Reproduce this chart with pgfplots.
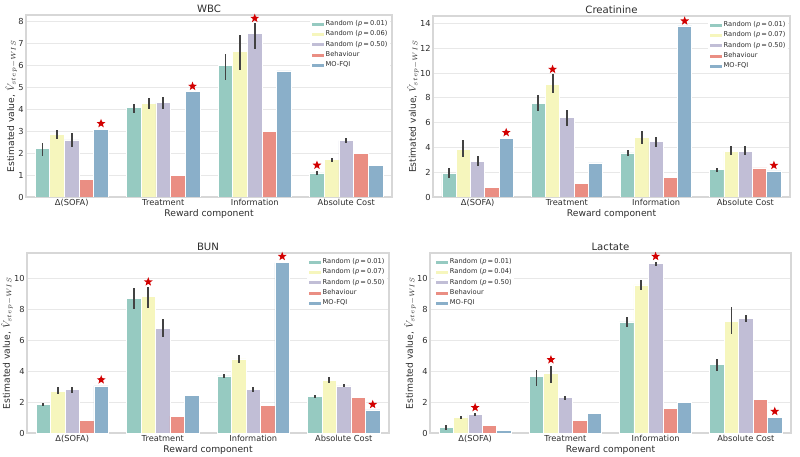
\documentclass[border=0pt]{standalone}
\usepackage{pgfplots}
\pgfplotsset{compat=1.18}
\usepackage{pgfplotstable}
\usepackage{fontspec}
\setmainfont{DejaVu Sans}
\definecolor{c1}{RGB}{150,202,193}
\definecolor{c2}{RGB}{246,246,189}
\definecolor{c3}{RGB}{193,190,214}
\definecolor{c4}{RGB}{234,142,131}
\definecolor{c5}{RGB}{138,175,201}
\definecolor{errc}{RGB}{66,66,66}
\definecolor{gridc}{RGB}{232,232,232}
\definecolor{spinec}{RGB}{215,215,215}
\definecolor{textc}{RGB}{45,45,45}
\definecolor{starc}{RGB}{210,0,0}
\pgfdeclareplotmark{fstar}{%
 \pgfpathmoveto{\pgfpointpolar{90}{\pgfplotmarksize}}%
 \pgfpathlineto{\pgfpointpolar{126}{0.42\pgfplotmarksize}}%
 \pgfpathlineto{\pgfpointpolar{162}{\pgfplotmarksize}}%
 \pgfpathlineto{\pgfpointpolar{198}{0.42\pgfplotmarksize}}%
 \pgfpathlineto{\pgfpointpolar{234}{\pgfplotmarksize}}%
 \pgfpathlineto{\pgfpointpolar{270}{0.42\pgfplotmarksize}}%
 \pgfpathlineto{\pgfpointpolar{306}{\pgfplotmarksize}}%
 \pgfpathlineto{\pgfpointpolar{342}{0.42\pgfplotmarksize}}%
 \pgfpathlineto{\pgfpointpolar{18}{\pgfplotmarksize}}%
 \pgfpathlineto{\pgfpointpolar{54}{0.42\pgfplotmarksize}}%
 \pgfpathclose\pgfusepathqfill}

% columns: x, random p1 (g, gl, gh), random p2 (y, yl, yh), random 0.50 (p, pl, ph), behaviour b, MO-FQI m
\pgfplotstableread{
x g gl gh y yl yh p pl ph b m
0 2.2 1.85 2.45 2.87 2.65 3.05 2.6 2.3 2.9 0.8 3.1
1 4.1 3.85 4.25 4.25 4.0 4.5 4.3 4.0 4.55 1.0 4.82
2 6.0 5.35 6.5 6.65 5.8 7.4 7.45 6.75 7.95 2.98 5.75
3 1.1 1.0 1.2 1.7 1.6 1.8 2.57 2.48 2.68 2.0 1.43
}\wbc
\pgfplotstableread{
x y
0.32 3.35
1.32 5.05
2.0 8.15
2.68 1.45
}\wbcstar
\pgfplotstableread{
x g gl gh y yl yh p pl ph b m
0 1.9 1.55 2.35 3.85 3.2 4.6 2.85 2.5 3.3 0.8 4.75
1 7.55 6.9 8.2 9.1 8.35 9.9 6.4 5.75 7.0 1.1 2.75
2 3.55 3.3 3.8 4.8 4.3 5.3 4.45 4.0 4.85 1.55 13.8
3 2.2 2.05 2.3 3.7 3.35 4.15 3.7 3.4 4.1 2.35 2.1
}\creat
\pgfplotstableread{
x y
0.32 5.2
0.84 10.3
2.32 14.2
3.32 2.55
}\creatstar
\pgfplotstableread{
x g gl gh y yl yh p pl ph b m
0 1.85 1.75 1.97 2.7 2.5 2.95 2.82 2.6 3.0 0.8 3.05
1 8.75 8.05 9.4 8.85 8.1 9.45 6.8 6.2 7.4 1.1 2.45
2 3.7 3.55 3.85 4.8 4.55 5.05 2.82 2.65 3.0 1.8 11.05
3 2.35 2.25 2.45 3.4 3.25 3.6 3.05 2.95 3.2 2.3 1.5
}\bun
\pgfplotstableread{
x y
0.32 3.45
0.84 9.8
2.32 11.45
3.32 1.85
}\bunstar
\pgfplotstableread{
x g gl gh y yl yh p pl ph b m
0 0.35 0.2 0.55 1.0 0.9 1.1 1.2 1.12 1.28 0.47 0.15
1 3.65 3.05 4.1 3.85 3.25 4.35 2.3 2.15 2.42 0.8 1.27
2 7.2 6.9 7.5 9.6 9.3 9.9 11.0 10.85 11.1 1.58 2.0
3 4.45 4.05 4.8 7.25 6.4 8.2 7.45 7.2 7.65 2.2 1.0
}\lac
\pgfplotstableread{
x y
0.0 1.65
0.84 4.75
2.0 11.45
3.32 1.4
}\lacstar

\pgfplotsset{
 myax/.style={
  scale only axis, ymin=0, xmin=-0.5, xmax=3.5,
  xtick={0,1,2,3},
  xticklabels={Δ(SOFA),Treatment,Information,Absolute Cost},
  major tick length=0pt,
  ymajorgrids, grid style={draw=gridc, line width=0.6pt},
  axis line style={draw=spinec, line width=0.8pt},
  tick label style={font=\fontsize{6.2}{7}\selectfont, text=textc},
  xticklabel style={inner sep=1pt, yshift=-0.5pt},
  yticklabel style={inner sep=1.5pt},
  /pgf/number format/assume math mode=true,
  label style={font=\fontsize{6.9}{8}\selectfont, text=textc},
  xlabel={Reward component},
  ylabel={Estimated value, $\hat{V}_{step-WIS}$},
  xlabel style={inner sep=1pt},
  ylabel style={inner sep=1pt, yshift=-1.5pt},
  every axis title shift=0pt,
  title style={font=\fontsize{7.6}{9}\selectfont, text=textc, inner sep=1.6pt},
  legend cell align=left,
  legend style={draw=none, fill=white, font=\fontsize{5}{6.2}\selectfont, text=textc,
    inner sep=1pt, row sep=0.9pt, nodes={inner sep=0.8pt}},
 },
 mybar/.style={ybar, bar width=0.16, bar shift=#1, draw=white, line width=0.5pt,
   legend image code/.code={\fill[##1] (0pt,-1.5pt) rectangle (9.75pt,1.5pt);}},
 myerr/.style={forget plot, draw=none, mark=none,
   error bars/y dir=both, error bars/y explicit, error bars/error mark=none,
   error bars/error bar style={line width=1.4pt, draw=errc, solid}},
 mystar/.style={only marks, mark=fstar, mark size=3.5pt, color=starc, fill=starc, draw=none, forget plot},
}

\begin{document}
\begin{tikzpicture}
\useasboundingbox (0,0) rectangle (600pt,342.75pt);

% ---------------- WBC
\begin{axis}[myax, at={(19.5pt,195pt)}, anchor=south west,
  width=274.5pt, height=136.5pt, ymax=8.3, ytick={0,1,...,8},
  title={WBC},
  legend style={at={(0.995,0.985)}, anchor=north east}]
\addplot[mybar=-0.32, fill=c1] table[x=x, y=g] {\wbc};
\addplot[mybar=-0.16, fill=c2] table[x=x, y=y] {\wbc};
\addplot[mybar=0, fill=c3] table[x=x, y=p] {\wbc};
\addplot[mybar=0.16, fill=c4] table[x=x, y=b] {\wbc};
\addplot[mybar=0.32, fill=c5] table[x=x, y=m] {\wbc};
\addplot[myerr] table[x expr=\thisrow{x}-0.32, y=g, y error plus expr=\thisrow{gh}-\thisrow{g}, y error minus expr=\thisrow{g}-\thisrow{gl}] {\wbc};
\addplot[myerr] table[x expr=\thisrow{x}-0.16, y=y, y error plus expr=\thisrow{yh}-\thisrow{y}, y error minus expr=\thisrow{y}-\thisrow{yl}] {\wbc};
\addplot[myerr] table[x=x, y=p, y error plus expr=\thisrow{ph}-\thisrow{p}, y error minus expr=\thisrow{p}-\thisrow{pl}] {\wbc};
\addplot[mystar] table[x=x, y=y] {\wbcstar};
\legend{Random (\textit{p}\,=\,0.01), Random (\textit{p}\,=\,0.06), Random (\textit{p}\,=\,0.50), Behaviour, MO-FQI}
\end{axis}

% ---------------- Creatinine
\begin{axis}[myax, at={(324.75pt,195pt)}, anchor=south west,
  width=267.75pt, height=135.75pt, ymax=14.6, ytick={0,2,...,14},
  title={Creatinine},
  legend style={at={(0.995,0.985)}, anchor=north east}]
\addplot[mybar=-0.32, fill=c1] table[x=x, y=g] {\creat};
\addplot[mybar=-0.16, fill=c2] table[x=x, y=y] {\creat};
\addplot[mybar=0, fill=c3] table[x=x, y=p] {\creat};
\addplot[mybar=0.16, fill=c4] table[x=x, y=b] {\creat};
\addplot[mybar=0.32, fill=c5] table[x=x, y=m] {\creat};
\addplot[myerr] table[x expr=\thisrow{x}-0.32, y=g, y error plus expr=\thisrow{gh}-\thisrow{g}, y error minus expr=\thisrow{g}-\thisrow{gl}] {\creat};
\addplot[myerr] table[x expr=\thisrow{x}-0.16, y=y, y error plus expr=\thisrow{yh}-\thisrow{y}, y error minus expr=\thisrow{y}-\thisrow{yl}] {\creat};
\addplot[myerr] table[x=x, y=p, y error plus expr=\thisrow{ph}-\thisrow{p}, y error minus expr=\thisrow{p}-\thisrow{pl}] {\creat};
\addplot[mystar] table[x=x, y=y] {\creatstar};
\legend{Random (\textit{p}\,=\,0.01), Random (\textit{p}\,=\,0.07), Random (\textit{p}\,=\,0.50), Behaviour, MO-FQI}
\end{axis}

% ---------------- BUN
\begin{axis}[myax, at={(20.25pt,18pt)}, anchor=south west,
  width=271.5pt, height=135pt, ymax=11.67, ytick={0,2,...,10},
  title={BUN},
  legend style={at={(0.995,0.985)}, anchor=north east}]
\addplot[mybar=-0.32, fill=c1] table[x=x, y=g] {\bun};
\addplot[mybar=-0.16, fill=c2] table[x=x, y=y] {\bun};
\addplot[mybar=0, fill=c3] table[x=x, y=p] {\bun};
\addplot[mybar=0.16, fill=c4] table[x=x, y=b] {\bun};
\addplot[mybar=0.32, fill=c5] table[x=x, y=m] {\bun};
\addplot[myerr] table[x expr=\thisrow{x}-0.32, y=g, y error plus expr=\thisrow{gh}-\thisrow{g}, y error minus expr=\thisrow{g}-\thisrow{gl}] {\bun};
\addplot[myerr] table[x expr=\thisrow{x}-0.16, y=y, y error plus expr=\thisrow{yh}-\thisrow{y}, y error minus expr=\thisrow{y}-\thisrow{yl}] {\bun};
\addplot[myerr] table[x=x, y=p, y error plus expr=\thisrow{ph}-\thisrow{p}, y error minus expr=\thisrow{p}-\thisrow{pl}] {\bun};
\addplot[mystar] table[x=x, y=y] {\bunstar};
\legend{Random (\textit{p}\,=\,0.01), Random (\textit{p}\,=\,0.07), Random (\textit{p}\,=\,0.50), Behaviour, MO-FQI}
\end{axis}

% ---------------- Lactate
\begin{axis}[myax, at={(322.5pt,18pt)}, anchor=south west,
  width=270.75pt, height=135pt, ymax=11.67, ytick={0,2,...,10},
  title={Lactate},
  legend style={at={(0.01,0.985)}, anchor=north west}]
\addplot[mybar=-0.32, fill=c1] table[x=x, y=g] {\lac};
\addplot[mybar=-0.16, fill=c2] table[x=x, y=y] {\lac};
\addplot[mybar=0, fill=c3] table[x=x, y=p] {\lac};
\addplot[mybar=0.16, fill=c4] table[x=x, y=b] {\lac};
\addplot[mybar=0.32, fill=c5] table[x=x, y=m] {\lac};
\addplot[myerr] table[x expr=\thisrow{x}-0.32, y=g, y error plus expr=\thisrow{gh}-\thisrow{g}, y error minus expr=\thisrow{g}-\thisrow{gl}] {\lac};
\addplot[myerr] table[x expr=\thisrow{x}-0.16, y=y, y error plus expr=\thisrow{yh}-\thisrow{y}, y error minus expr=\thisrow{y}-\thisrow{yl}] {\lac};
\addplot[myerr] table[x=x, y=p, y error plus expr=\thisrow{ph}-\thisrow{p}, y error minus expr=\thisrow{p}-\thisrow{pl}] {\lac};
\addplot[mystar] table[x=x, y=y] {\lacstar};
\legend{Random (\textit{p}\,=\,0.01), Random (\textit{p}\,=\,0.04), Random (\textit{p}\,=\,0.50), Behaviour, MO-FQI}
\end{axis}
\end{tikzpicture}
\end{document}
